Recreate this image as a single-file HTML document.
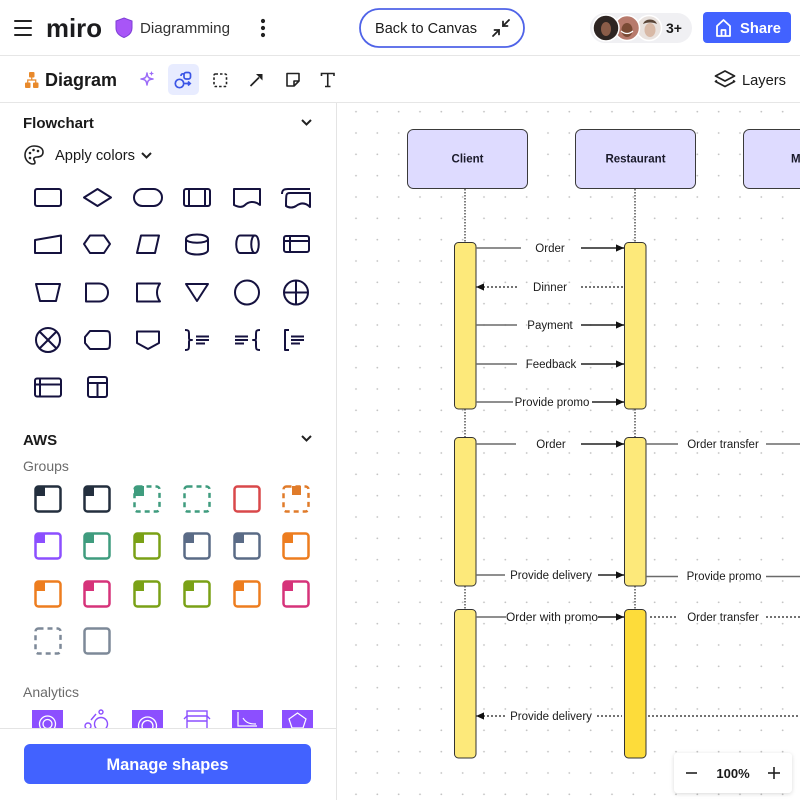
<!DOCTYPE html>
<html><head><meta charset="utf-8"><style>
html,body{margin:0;padding:0;width:800px;height:800px;overflow:hidden;background:#fff;font-family:"Liberation Sans",sans-serif}
svg{display:block}
</style></head><body>
<svg width="800" height="800" viewBox="0 0 800 800" xmlns="http://www.w3.org/2000/svg" font-family="Liberation Sans, sans-serif">
<defs>
<pattern id="dots" patternUnits="userSpaceOnUse" x="345.33" y="101" width="21.333" height="21.333">
<circle cx="10.667" cy="10.667" r="0.9" fill="#c2c2c2"/>
</pattern>
<marker id="ah" viewBox="0 0 10 10" refX="10" refY="5" markerWidth="8" markerHeight="8" markerUnits="userSpaceOnUse" orient="auto"><path d="M0,0.5 L10,5 L0,9.5 Z" fill="#111"/></marker>
<filter id="sh" x="-20%" y="-30%" width="140%" height="170%"><feDropShadow dx="0" dy="1" stdDeviation="2" flood-color="#000" flood-opacity="0.15"/></filter>
<clipPath id="cv"><rect x="337" y="103" width="463" height="697"/></clipPath>
</defs>

<!-- CANVAS -->
<rect x="337" y="103" width="463" height="697" fill="#fff"/>
<rect x="337" y="103" width="463" height="697" fill="url(#dots)"/>
<g clip-path="url(#cv)">
  <rect x="407.5" y="129.5" width="120" height="59" rx="6" fill="#dedbff" stroke="#3a3a3a"/>
  <text x="467.5" y="162.5" font-size="11.5" font-weight="bold" text-anchor="middle" fill="#1a1a2a">Client</text>
  <rect x="575.5" y="129.5" width="120" height="59" rx="6" fill="#dedbff" stroke="#3a3a3a"/>
  <text x="635.5" y="162.5" font-size="11.5" font-weight="bold" text-anchor="middle" fill="#1a1a2a">Restaurant</text>
  <rect x="743.5" y="129.5" width="120" height="59" rx="6" fill="#dedbff" stroke="#3a3a3a"/>
  <text x="791" y="162.5" font-size="11.5" font-weight="bold" fill="#1a1a2a">Manager</text>

  <g stroke="#555" stroke-width="1.5" stroke-dasharray="1.5 1.5">
    <line x1="465" y1="189" x2="465" y2="242"/>
    <line x1="465" y1="409" x2="465" y2="437"/>
    <line x1="465" y1="586" x2="465" y2="609"/>
    <line x1="635" y1="189" x2="635" y2="242"/>
    <line x1="635" y1="409" x2="635" y2="437"/>
    <line x1="635" y1="586" x2="635" y2="609"/>
  </g>

  <g stroke="#333" stroke-width="1">
    <rect x="454.5" y="242.5" width="21.5" height="166.5" rx="4" fill="#fde97a"/>
    <rect x="624.5" y="242.5" width="21.5" height="166.5" rx="4" fill="#fde97a"/>
    <rect x="454.5" y="437.5" width="21.5" height="148.5" rx="4" fill="#fde97a"/>
    <rect x="624.5" y="437.5" width="21.5" height="148.5" rx="4" fill="#fde97a"/>
    <rect x="454.5" y="609.5" width="21.5" height="148.5" rx="4" fill="#fde97a"/>
    <rect x="624.5" y="609.5" width="21.5" height="148.5" rx="4" fill="#fddc3a"/>
  </g>

  <g stroke="#6a6a6a" stroke-width="1.5" fill="none">
    <line x1="476" y1="248" x2="521" y2="248"/>
    <line x1="581" y1="248" x2="624" y2="248" stroke="#222" marker-end="url(#ah)"/>
    <line x1="623" y1="287" x2="580" y2="287" stroke="#444" stroke-dasharray="2 2"/>
    <line x1="517" y1="287" x2="476" y2="287" stroke="#444" stroke-dasharray="2 2" marker-end="url(#ah)"/>
    <line x1="476" y1="325" x2="517" y2="325"/>
    <line x1="581" y1="325" x2="624" y2="325" stroke="#222" marker-end="url(#ah)"/>
    <line x1="476" y1="364" x2="517" y2="364"/>
    <line x1="581" y1="364" x2="624" y2="364" stroke="#222" marker-end="url(#ah)"/>
    <line x1="476" y1="402" x2="513" y2="402"/>
    <line x1="592" y1="402" x2="624" y2="402" stroke="#222" marker-end="url(#ah)"/>
    <line x1="476" y1="444" x2="516" y2="444"/>
    <line x1="581" y1="444" x2="624" y2="444" stroke="#222" marker-end="url(#ah)"/>
    <line x1="646" y1="444" x2="678" y2="444"/>
    <line x1="766" y1="444" x2="800" y2="444"/>
    <line x1="476" y1="575" x2="505" y2="575"/>
    <line x1="598" y1="575" x2="624" y2="575" stroke="#222" marker-end="url(#ah)"/>
    <line x1="646" y1="576.5" x2="678" y2="576.5"/>
    <line x1="766" y1="576.5" x2="800" y2="576.5"/>
    <line x1="476" y1="617" x2="506" y2="617"/>
    <line x1="598" y1="617" x2="624" y2="617" stroke="#222" marker-end="url(#ah)"/>
    <line x1="650" y1="617" x2="678" y2="617" stroke="#444" stroke-dasharray="2 2"/>
    <line x1="766" y1="617" x2="800" y2="617" stroke="#444" stroke-dasharray="2 2"/>
    <line x1="505" y1="716" x2="476" y2="716" stroke="#444" stroke-dasharray="2 2" marker-end="url(#ah)"/>
    <line x1="597" y1="716" x2="622" y2="716" stroke="#444" stroke-dasharray="2 2"/>
    <line x1="648" y1="716" x2="800" y2="716" stroke="#444" stroke-dasharray="2 2"/>
  </g>
  <g font-size="11.5" fill="#1a1a1a" text-anchor="middle">
    <text x="550" y="252">Order</text>
    <text x="550" y="291">Dinner</text>
    <text x="550" y="329">Payment</text>
    <text x="551" y="368">Feedback</text>
    <text x="552" y="406">Provide promo</text>
    <text x="551" y="448">Order</text>
    <text x="723" y="448">Order transfer</text>
    <text x="551" y="579">Provide delivery</text>
    <text x="724" y="580">Provide promo</text>
    <text x="552" y="621" textLength="92" lengthAdjust="spacingAndGlyphs">Order with promo</text>
    <text x="723" y="621">Order transfer</text>
    <text x="551" y="720">Provide delivery</text>
  </g>
</g>

<rect x="674" y="753" width="118" height="40" rx="4" fill="#fff" filter="url(#sh)"/>
<line x1="686" y1="773" x2="697" y2="773" stroke="#222" stroke-width="1.6"/>
<text x="733" y="778" font-size="13" font-weight="bold" text-anchor="middle" fill="#1a1a1a">100%</text>
<line x1="768" y1="773" x2="780" y2="773" stroke="#222" stroke-width="1.6"/>
<line x1="774" y1="767" x2="774" y2="779" stroke="#222" stroke-width="1.6"/>

<!-- SIDEBAR -->
<rect x="0" y="103" width="336" height="697" fill="#fff"/>
<line x1="336.5" y1="103" x2="336.5" y2="800" stroke="#e4e4e4"/>
<text x="23" y="128" font-size="15" font-weight="bold" fill="#1a1a1a">Flowchart</text>
<path d="M302,120 L306.5,124.5 L311,120" stroke="#222" stroke-width="2" fill="none"/>
<g stroke="#222" stroke-width="1.6" fill="none">
  <path d="M34,146 C28,146 25,151 25,155 C25,160 29,164 33,164 C36,164 35,161 34,160 C33,158 35,157 37,157 C41,157 43,155 43,152 C43,148 39,146 34,146 Z"/>
</g>
<circle cx="30" cy="153" r="1.3" fill="#222"/><circle cx="33.5" cy="150" r="1.3" fill="#222"/><circle cx="38" cy="151" r="1.3" fill="#222"/><circle cx="30" cy="158" r="1.3" fill="#222"/>
<text x="55" y="160" font-size="14.5" fill="#1a1a1a" textLength="80" lengthAdjust="spacingAndGlyphs">Apply colors</text>
<path d="M142,153 L146.5,157.5 L151,153" stroke="#222" stroke-width="2" fill="none"/>

<g stroke="#15123f" stroke-width="2" fill="none" stroke-linejoin="round">
  <rect x="35" y="189" width="26" height="17" rx="2"/>
  <path d="M84,197.5 L97.5,189 L111,197.5 L97.5,206 Z"/>
  <rect x="134" y="189" width="28" height="17" rx="8.5"/>
  <rect x="184" y="189" width="26" height="17" rx="2"/><line x1="189" y1="189" x2="189" y2="206"/><line x1="205" y1="189" x2="205" y2="206"/>
  <path d="M234,189 H260 V205 C254,200 248,202 245,205 C242,208 238,207 234,205 Z"/>
  <path d="M282,194 C282,190 284,189 288,189 H310 M286,206 C286,194 286,193 290,193 H310 V207 C305,202 300,203 296,206 C293,208 289,208 286,206 Z"/>
  <path d="M35,240 L61,235.5 V253 H35 Z"/>
  <path d="M84,244 L90,235.5 H104 L110,244 L104,253 H90 Z"/>
  <path d="M137,253 L141,235.5 H159 L155,253 Z"/>
  <path d="M186,239 C186,233 208,233 208,239 V250 C208,256 186,256 186,250 Z M186,239 C186,244 208,244 208,239"/>
  <path d="M240,235.5 H255 C260,235.5 260,253 255,253 H240 C235,253 235,235.5 240,235.5 Z M255,235.5 C250,235.5 250,253 255,253"/>
  <rect x="284" y="236" width="25" height="16" rx="2"/><line x1="284" y1="241" x2="309" y2="241"/><line x1="290" y1="236" x2="290" y2="252"/>
  <path d="M36,284 H60 L56,301 H40 Z"/>
  <path d="M86,283.5 H99 C111,283.5 111,301.5 99,301.5 H86 Z"/>
  <path d="M137,283.5 H160 C156,289 156,296 160,301.5 H137 Z"/>
  <path d="M186,284 H208 L197,301 Z"/>
  <circle cx="247" cy="292.5" r="12"/>
  <circle cx="296" cy="292.5" r="12"/><line x1="284" y1="292.5" x2="308" y2="292.5"/><line x1="296" y1="280.5" x2="296" y2="304.5"/>
  <circle cx="48" cy="340" r="12"/><line x1="39.5" y1="331.5" x2="56.5" y2="348.5"/><line x1="56.5" y1="331.5" x2="39.5" y2="348.5"/>
  <path d="M90,331 H104 C110,331 110,331 110,340 C110,349 110,349 104,349 H90 L85,343 V337 Z"/>
  <path d="M137,331.5 H159 V343 L148,349 L137,343 Z"/>
  <path d="M185,330 C189,330 189,331 189,335 V338 C189,340 190,340 192,340 C190,340 189,340 189,342 V345 C189,349 189,350 185,350"/>
  <path d="M196,336.5 H209 M196,340 H209 M196,343.5 H205"/>
  <path d="M260,330 C256,330 256,331 256,335 V338 C256,340 255,340 253,340 C255,340 256,340 256,342 V345 C256,349 256,350 260,350"/>
  <path d="M235,336.5 H248 M235,340 H248 M235,343.5 H244"/>
  <path d="M289,330 H285 V350 H289"/>
  <path d="M291,336.5 H304 M291,340 H304 M291,343.5 H300"/>
  <rect x="35" y="378.5" width="26" height="18" rx="2"/><line x1="35" y1="384.5" x2="61" y2="384.5"/><line x1="40" y1="378.5" x2="40" y2="396.5"/>
  <rect x="88" y="377" width="19" height="20" rx="2"/><line x1="88" y1="383" x2="107" y2="383"/><line x1="97.5" y1="383" x2="97.5" y2="397"/>
</g>

<text x="23" y="445" font-size="15" font-weight="bold" fill="#1a1a1a">AWS</text>
<path d="M302,436 L306.5,440.5 L311,436" stroke="#222" stroke-width="2" fill="none"/>
<text x="23" y="471" font-size="14" fill="#6b6b6b">Groups</text>
<g stroke-width="2.5" fill="none">
  <rect x="35.5" y="486.5" width="25" height="25" rx="3" stroke="#232f3e"/><path d="M35.5,496 V489.5 Q35.5,486.5 38.5,486.5 H45 V496 Z" fill="#232f3e" stroke="none"/>
  <rect x="84.5" y="486.5" width="25" height="25" rx="3" stroke="#232f3e"/><path d="M84.5,496 V489.5 Q84.5,486.5 87.5,486.5 H94 V496 Z" fill="#232f3e" stroke="none"/>
  <rect x="134.5" y="486.5" width="25" height="25" rx="3" stroke="#3f9c7e" stroke-dasharray="5 4"/><path d="M134,496 V489 Q134,486 137,486 H144 V496 Z" fill="#3f9c7e" stroke="none"/>
  <rect x="184.5" y="486.5" width="25" height="25" rx="3" stroke="#3f9c7e" stroke-dasharray="5 4"/>
  <rect x="234.5" y="486.5" width="25" height="25" rx="3" stroke="#d9484a"/>
  <rect x="283.5" y="486.5" width="25" height="25" rx="3" stroke="#e07b2a" stroke-dasharray="5 4"/><rect x="292" y="486" width="9" height="9" fill="#e07b2a" stroke="none"/>
  <rect x="35.5" y="533.5" width="25" height="25" rx="3" stroke="#8c4fff"/><path d="M35.5,543 V536.5 Q35.5,533.5 38.5,533.5 H45 V543 Z" fill="#8c4fff" stroke="none"/>
  <rect x="84.5" y="533.5" width="25" height="25" rx="3" stroke="#3f9c7e"/><path d="M84.5,543 V536.5 Q84.5,533.5 87.5,533.5 H94 V543 Z" fill="#3f9c7e" stroke="none"/>
  <rect x="134.5" y="533.5" width="25" height="25" rx="3" stroke="#7aa116"/><path d="M134.5,543 V536.5 Q134.5,533.5 137.5,533.5 H144 V543 Z" fill="#7aa116" stroke="none"/>
  <rect x="184.5" y="533.5" width="25" height="25" rx="3" stroke="#5a6b86"/><path d="M184.5,543 V536.5 Q184.5,533.5 187.5,533.5 H194 V543 Z" fill="#5a6b86" stroke="none"/>
  <rect x="234.5" y="533.5" width="25" height="25" rx="3" stroke="#5a6b86"/><path d="M234.5,543 V536.5 Q234.5,533.5 237.5,533.5 H244 V543 Z" fill="#5a6b86" stroke="none"/>
  <rect x="283.5" y="533.5" width="25" height="25" rx="3" stroke="#ed7d1f"/><path d="M283.5,543 V536.5 Q283.5,533.5 286.5,533.5 H293 V543 Z" fill="#ed7d1f" stroke="none"/>
  <rect x="35.5" y="581.5" width="25" height="25" rx="3" stroke="#ed7d1f"/><path d="M35.5,591 V584.5 Q35.5,581.5 38.5,581.5 H45 V591 Z" fill="#ed7d1f" stroke="none"/>
  <rect x="84.5" y="581.5" width="25" height="25" rx="3" stroke="#d6337a"/><path d="M84.5,591 V584.5 Q84.5,581.5 87.5,581.5 H94 V591 Z" fill="#d6337a" stroke="none"/>
  <rect x="134.5" y="581.5" width="25" height="25" rx="3" stroke="#7aa116"/><path d="M134.5,591 V584.5 Q134.5,581.5 137.5,581.5 H144 V591 Z" fill="#7aa116" stroke="none"/>
  <rect x="184.5" y="581.5" width="25" height="25" rx="3" stroke="#7aa116"/><path d="M184.5,591 V584.5 Q184.5,581.5 187.5,581.5 H194 V591 Z" fill="#7aa116" stroke="none"/>
  <rect x="234.5" y="581.5" width="25" height="25" rx="3" stroke="#ed7d1f"/><path d="M234.5,591 V584.5 Q234.5,581.5 237.5,581.5 H244 V591 Z" fill="#ed7d1f" stroke="none"/>
  <rect x="283.5" y="581.5" width="25" height="25" rx="3" stroke="#d6337a"/><path d="M283.5,591 V584.5 Q283.5,581.5 286.5,581.5 H293 V591 Z" fill="#d6337a" stroke="none"/>
  <rect x="35.5" y="628.5" width="25" height="25" rx="3" stroke="#7d8998" stroke-dasharray="5 4"/>
  <rect x="84.5" y="628.5" width="25" height="25" rx="3" stroke="#7d8998"/>
</g>
<text x="23" y="697" font-size="14" fill="#6b6b6b">Analytics</text>
<g>
  <rect x="32" y="710" width="31" height="20" fill="#8c4fff"/>
  <circle cx="47.5" cy="724" r="8" fill="none" stroke="#fff" stroke-width="1.3"/><circle cx="47.5" cy="724" r="4.5" fill="none" stroke="#fff" stroke-width="1.3"/>
  <g stroke="#8c4fff" stroke-width="1.4" fill="none"><circle cx="101" cy="724" r="6.5"/><circle cx="88" cy="726" r="3"/><path d="M91,720 L96,714"/><circle cx="101" cy="712" r="2"/></g>
  <rect x="132" y="710" width="31" height="20" fill="#8c4fff"/>
  <circle cx="147.5" cy="726" r="9" fill="none" stroke="#fff" stroke-width="1.3"/><circle cx="147.5" cy="726" r="5.5" fill="none" stroke="#fff" stroke-width="1.3"/>
  <g stroke="#8c4fff" stroke-width="1.4" fill="none"><rect x="187" y="711" width="20" height="18"/><line x1="187" y1="716" x2="207" y2="716"/><line x1="187" y1="721" x2="207" y2="721"/><path d="M184,719 L187,716 M210,719 L207,716"/></g>
  <rect x="232" y="710" width="31" height="20" fill="#8c4fff"/>
  <path d="M238,712 V726 H257 M243,718 C246,723 250,724 256,724" stroke="#fff" stroke-width="1.2" fill="none"/>
  <rect x="282" y="710" width="31" height="20" fill="#8c4fff"/>
  <path d="M297.5,713 L306,719 L303,728 H292 L289,719 Z" stroke="#fff" stroke-width="1.2" fill="none"/>
</g>
<rect x="0" y="728" width="336" height="72" fill="#fff"/>
<line x1="0" y1="728.5" x2="336" y2="728.5" stroke="#e4e4e4"/>
<rect x="24" y="744" width="287" height="40" rx="6" fill="#4262ff"/>
<text x="167.5" y="770" font-size="17" font-weight="bold" text-anchor="middle" fill="#fff" textLength="122" lengthAdjust="spacingAndGlyphs">Manage shapes</text>

<!-- TOP BAR -->
<rect x="0" y="0" width="800" height="55" fill="#fff"/>
<line x1="0" y1="55.5" x2="800" y2="55.5" stroke="#e6e6e6"/>
<g stroke="#222" stroke-width="2" stroke-linecap="round"><line x1="15" y1="21" x2="31" y2="21"/><line x1="15" y1="28" x2="31" y2="28"/><line x1="15" y1="35" x2="31" y2="35"/></g>
<text x="46" y="37" font-size="26" font-weight="bold" fill="#1c1c1e" textLength="56" lengthAdjust="spacingAndGlyphs">miro</text>
<path d="M124,18 L132,21 V28 C132,33 128,36 124,37.5 C120,36 116,33 116,28 V21 Z" fill="#a855f7" stroke="#7e3fd6" stroke-width="1"/>
<text x="140" y="33" font-size="15" fill="#333" textLength="90" lengthAdjust="spacingAndGlyphs">Diagramming</text>
<circle cx="263" cy="21" r="2.1" fill="#222"/><circle cx="263" cy="28" r="2.1" fill="#222"/><circle cx="263" cy="35" r="2.1" fill="#222"/>

<rect x="360" y="9" width="164" height="38" rx="19" fill="#fff" stroke="#4f63e8" stroke-width="1.8"/>
<text x="375" y="33" font-size="14.5" fill="#1a1a1a" textLength="102" lengthAdjust="spacingAndGlyphs">Back to Canvas</text>
<g stroke="#222" stroke-width="1.8" fill="none" stroke-linecap="round">
  <line x1="493" y1="36" x2="499" y2="30"/><path d="M494.5,30 H499 V34.5"/>
  <line x1="509" y1="20" x2="503" y2="26"/><path d="M507.5,26 H503 V21.5"/>
</g>

<rect x="590" y="13" width="102" height="30" rx="15" fill="#f0f0f3"/>
<circle cx="649" cy="28" r="12.5" fill="#e9e2de" stroke="#fff" stroke-width="1.5"/>
<ellipse cx="650" cy="30" rx="5.5" ry="7" fill="#d8b9a6"/><path d="M643,24 C645,18 655,18 657,24 C653,22 647,22 643,24 Z" fill="#5a4638"/>
<circle cx="627" cy="28" r="12.5" fill="#b77a6c" stroke="#fff" stroke-width="1.5"/>
<ellipse cx="627" cy="30" rx="5.5" ry="7" fill="#7a4a34"/><path d="M621,31 Q627,36 633,31" stroke="#fff" stroke-width="1.2" fill="none"/>
<circle cx="606" cy="28" r="13" fill="#2e2522" stroke="#fff" stroke-width="1.5"/>
<ellipse cx="606" cy="29" rx="5" ry="7" fill="#8a5c48"/>
<text x="666" y="33" font-size="14" font-weight="bold" fill="#1a1a1a">3+</text>

<rect x="703" y="12" width="88" height="31" rx="4" fill="#4262ff"/>
<path d="M717,26 L723.5,20 L730,26 V36 H717 Z M721.5,36 V30 H725.5 V36" stroke="#fff" stroke-width="1.8" fill="none" stroke-linejoin="round"/>
<text x="740" y="33" font-size="15" font-weight="bold" fill="#fff" textLength="41" lengthAdjust="spacingAndGlyphs">Share</text>

<!-- TOOLBAR 2 -->
<rect x="0" y="56" width="800" height="46" fill="#fff"/>
<line x1="0" y1="102.5" x2="800" y2="102.5" stroke="#e6e6e6"/>
<g fill="#e8892b"><rect x="29" y="72" width="5.5" height="5.5" rx="1"/><rect x="25" y="82.5" width="5.5" height="5.5" rx="1"/><rect x="33" y="82.5" width="5.5" height="5.5" rx="1"/></g>
<path d="M31.75,77.5 V80 M27.75,82.5 V80 H35.75 V82.5" stroke="#e8892b" stroke-width="1.2" fill="none"/>
<text x="45" y="86" font-size="18" font-weight="bold" fill="#1a1a1a" textLength="72" lengthAdjust="spacingAndGlyphs">Diagram</text>
<path d="M147,73 C147.6,77.5 148.5,78.4 153,79 C148.5,79.6 147.6,80.5 147,85 C146.4,80.5 145.5,79.6 141,79 C145.5,78.4 146.4,77.5 147,73 Z" fill="none" stroke="#9c6cf7" stroke-width="1.5" stroke-linejoin="round"/>
<path d="M151.5,71 L152.2,72.8 L154,73.5 L152.2,74.2 L151.5,76 L150.8,74.2 L149,73.5 L150.8,72.8 Z" fill="#9c6cf7"/>
<rect x="168" y="64" width="31" height="31" rx="5" fill="#e8ecff"/>
<g stroke="#3b55e6" stroke-width="1.7" fill="none"><circle cx="179.5" cy="83.5" r="4.2"/><rect x="184" y="72.5" width="6.5" height="6.5" rx="2"/><path d="M181,76 C181,74 182,73.5 184,74 M184.5,83.5 H190 M188,81.5 L190.2,83.5 L188,85.5"/></g>
<rect x="214" y="74" width="12.5" height="12.5" rx="1.5" fill="none" stroke="#222" stroke-width="1.6" stroke-dasharray="2.5 2"/>
<line x1="250.5" y1="86" x2="259" y2="77.5" stroke="#222" stroke-width="1.7"/><path d="M256,74 L262.5,74 L262.5,80.5 Z" fill="#222"/>
<path d="M287,73.5 H299 V81 L294,86 H287 Z M294,86 V81 H299" stroke="#222" stroke-width="1.6" fill="none" stroke-linejoin="round"/>
<path d="M321.5,76 V73.5 H334 V76 M327.75,73.5 V86.5 M325,86.5 H330.5" stroke="#222" stroke-width="1.6" fill="none"/>
<g stroke="#222" stroke-width="1.8" fill="none" stroke-linejoin="round"><path d="M725,71 L734.5,76 L725,81 L715.5,76 Z"/><path d="M717,80.5 L715.5,81.5 L725,86.5 L734.5,81.5 L733,80.5"/></g>
<text x="742" y="85" font-size="15" fill="#1a1a1a" textLength="44" lengthAdjust="spacingAndGlyphs">Layers</text>
</svg>
</body></html>
